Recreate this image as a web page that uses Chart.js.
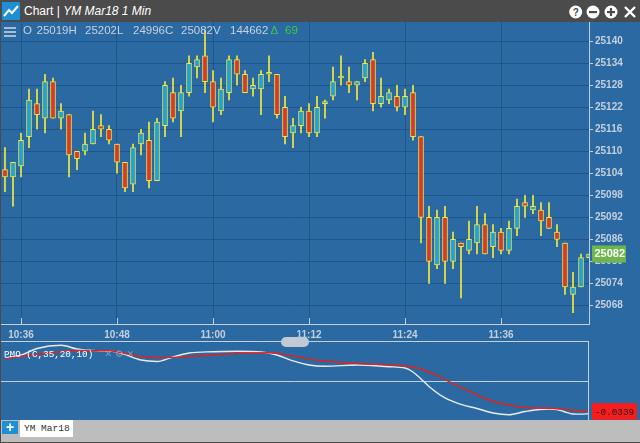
<!DOCTYPE html>
<html>
<head>
<meta charset="utf-8">
<script src="https://cdn.jsdelivr.net/npm/chart.js@4.4.1/dist/chart.umd.min.js"></script>
<style>
  html, body { margin: 0; padding: 0; }
  body {
    width: 640px; height: 443px; position: relative; overflow: hidden;
    background: #2a69a2; font-family: "Liberation Sans", Arial, sans-serif;
  }
  .abs { position: absolute; }
  #titlebar { left: 0; top: 0; width: 640px; height: 22px; background: #4b4b4b; }
  #title { left: 24px; top: 4px; color: #fff; font-size: 12px; line-height: 14px; white-space: pre; }
  #main { left: 0; top: 22px; z-index: 1; }
  #pmo { left: 0; top: 341px; z-index: 1; }
  .hdr { top: 24px; font-size: 11.5px; line-height: 13px; color: #c6d1df; z-index: 2; white-space: pre; }
  .hdr.up { color: #3ccb3c; }
  .burger { left: 4px; width: 12px; height: 2px; background: #a8bcd5; z-index: 2; }
  #panel { left: 0; top: 341px; width: 589px; height: 79px; box-sizing: border-box;
           border-top: 1px solid #c4cfdd; border-right: 1px solid #c4cfdd; z-index: 2; }
  #study { left: 4px; top: 348px; font-family: "Liberation Mono", monospace; font-size: 9.3px;
           color: #fff; z-index: 3; white-space: pre; }
  #study span { color: rgba(255,255,255,0.35); font-family: "DejaVu Sans", sans-serif; }
  #handle { left: 281px; top: 337px; width: 28px; height: 10px; border-radius: 5px; background: #c3c9d4; z-index: 3; }
  #footer { left: 0; top: 420px; width: 640px; height: 23px; background: #bdbdbd; z-index: 2; }
  #plus { left: 2px; top: 421px; width: 16px; height: 13px; background: #1f8fd8; color: #fff;
          font-weight: bold; font-size: 14px; line-height: 13px; text-align: center; z-index: 3; }
  #tab { left: 20px; top: 420px; width: 53px; height: 17px; background: #fff; color: #333;
         font-family: "Liberation Mono", monospace; font-size: 9.5px; line-height: 17px;
         padding-left: 4px; box-sizing: border-box; z-index: 3; }
  #frameL { left: 0; top: 22px; width: 1px; height: 421px; background: #4b4b4b; z-index: 4; }
  #frameB { left: 0; top: 442px; width: 640px; height: 1px; background: #4b4b4b; z-index: 4; }
</style>
</head>
<body>
<div id="titlebar" class="abs"></div>
<svg class="abs" style="left:2px;top:2px" width="18" height="18">
  <rect x="0" y="0" width="18" height="18" fill="#1e8ed6"/>
  <polyline points="2,14 7,8 10,11 16,4" fill="none" stroke="#fff" stroke-width="2"/>
</svg>
<div id="title" class="abs">Chart | <i>YM Mar18 1 Min</i></div>
<svg class="abs" style="left:568px;top:4px" width="72" height="16">
  <circle cx="7.7" cy="8" r="6.5" fill="#fff"/>
  <text x="7.7" y="12" text-anchor="middle" font-family="Liberation Sans" font-weight="bold" font-size="10" fill="#4b4b4b">?</text>
  <circle cx="25" cy="8" r="6.5" fill="#fff"/>
  <rect x="21" y="7" width="8" height="2.2" fill="#4b4b4b"/>
  <circle cx="43" cy="8" r="6.5" fill="#fff"/>
  <rect x="39" y="7" width="8" height="2.2" fill="#4b4b4b"/>
  <rect x="41.9" y="4" width="2.2" height="8" fill="#4b4b4b"/>
  <path d="M57 3 L67 13 M67 3 L57 13" stroke="#fff" stroke-width="2.4"/>
</svg>

<canvas id="main" class="abs" width="640" height="324"></canvas>
<canvas id="pmo" class="abs" width="640" height="79"></canvas>

<div class="abs burger" style="top:27px"></div>
<div class="abs burger" style="top:31px"></div>
<div class="abs burger" style="top:35px"></div>
<div class="abs hdr" style="left:23px">O</div>
<div class="abs hdr" style="left:36.5px">25019H</div>
<div class="abs hdr" style="left:85px">25202L</div>
<div class="abs hdr" style="left:133px">24996C</div>
<div class="abs hdr" style="left:181px">25082V</div>
<div class="abs hdr" style="left:230px">144662</div>
<div class="abs hdr up" style="left:270.5px">Δ</div>
<div class="abs hdr up" style="left:285px">69</div>

<div id="panel" class="abs"></div>
<div id="study" class="abs">PMO (C,35,20,10)  <span>✕ ⚙ ✕</span></div>
<div id="handle" class="abs"></div>
<div id="footer" class="abs"></div>
<div id="plus" class="abs">+</div>
<div id="tab" class="abs">YM Mar18</div>
<div id="frameL" class="abs"></div>
<div id="frameB" class="abs"></div>

<script>
// 1분봉 시각
const times = [
  '10:34', '10:35', '10:36', '10:37', '10:38', '10:39', '10:40', '10:41', '10:42', '10:43',
  '10:44', '10:45', '10:46', '10:47', '10:48', '10:49', '10:50', '10:51', '10:52', '10:53',
  '10:54', '10:55', '10:56', '10:57', '10:58', '10:59', '11:00', '11:01', '11:02', '11:03',
  '11:04', '11:05', '11:06', '11:07', '11:08', '11:09', '11:10', '11:11', '11:12', '11:13',
  '11:14', '11:15', '11:16', '11:17', '11:18', '11:19', '11:20', '11:21', '11:22', '11:23',
  '11:24', '11:25', '11:26', '11:27', '11:28', '11:29', '11:30', '11:31', '11:32', '11:33',
  '11:34', '11:35', '11:36', '11:37', '11:38', '11:39', '11:40', '11:41', '11:42', '11:43',
  '11:44', '11:45', '11:46', '11:47'
];

const opens = [
  25105, 25103, 25106, 25114, 25123, 25119, 25129, 25119, 25120, 25110,
  25110, 25112, 25117, 25116, 25112, 25107, 25101, 25112, 25113, 25102,
  25117, 25126, 25121, 25126, 25133, 25136, 25129, 25121, 25126, 25135,
  25131, 25127, 25127, 25131, 25131, 25122, 25115, 25117, 25121, 25115,
  25123, 25125, 25130, 25129, 25128, 25130, 25135, 25123, 25124, 25125,
  25122, 25126, 25114, 25092, 25079, 25092, 25080, 25085, 25083, 25085,
  25090, 25084, 25088, 25083, 25089, 25096, 25094, 25094, 25092, 25088,
  25085, 25071, 25073, 25081
];
const highs = [
  25111, 25107, 25115, 25127, 25127, 25131, 25130, 25123, 25120, 25110,
  25115, 25121, 25120, 25117, 25112, 25107, 25112, 25116, 25118, 25119,
  25129, 25130, 25128, 25136, 25136, 25143, 25132, 25130, 25136, 25136,
  25132, 25130, 25132, 25136, 25131, 25125, 25119, 25122, 25123, 25125,
  25124, 25133, 25136, 25133, 25129, 25135, 25137, 25130, 25127, 25128,
  25127, 25128, 25114, 25095, 25094, 25095, 25088, 25085, 25091, 25095,
  25093, 25090, 25089, 25091, 25097, 25098, 25098, 25096, 25096, 25090,
  25085, 25077, 25082, 25082
];
const lows = [
  25099, 25095, 25103, 25111, 25116, 25115, 25119, 25116, 25103, 25105,
  25109, 25112, 25114, 25112, 25104, 25099, 25099, 25109, 25100, 25102,
  25114, 25118, 25114, 25125, 25130, 25126, 25118, 25120, 25124, 25128,
  25126, 25125, 25120, 25129, 25119, 25112, 25111, 25115, 25114, 25114,
  25119, 25124, 25128, 25126, 25124, 25129, 25121, 25122, 25123, 25121,
  25120, 25113, 25085, 25074, 25078, 25074, 25078, 25070, 25082, 25082,
  25082, 25081, 25082, 25082, 25087, 25092, 25093, 25087, 25089, 25084,
  25071, 25066, 25073, 25081
];
const closes = [
  25103, 25107, 25113, 25124, 25120, 25129, 25119, 25121, 25109, 25108,
  25112, 25116, 25116, 25113, 25107, 25100, 25111, 25115, 25102, 25118,
  25128, 25119, 25126, 25134, 25135, 25129, 25122, 25127, 25135, 25131,
  25126, 25128, 25131, 25131, 25120, 25114, 25117, 25121, 25115, 25122,
  25123, 25129, 25130, 25128, 25129, 25134, 25123, 25125, 25126, 25122,
  25125, 25114, 25092, 25080, 25092, 25080, 25086, 25084, 25086, 25090,
  25082, 25088, 25083, 25089, 25095, 25095, 25095, 25091, 25089, 25086,
  25073, 25073, 25081, 25082
];

// PMO (흰색) 과 시그널 (빨간색)
const pmoTimes = [
  '10:34', '10:36', '10:38', '10:41', '10:43', '10:46', '10:48', '10:51', '10:53', '10:55',
  '10:57', '11:00', '11:03', '11:06', '11:08', '11:10', '11:12', '11:14', '11:18', '11:22',
  '11:24', '11:25', '11:26', '11:27', '11:29', '11:31', '11:33', '11:35', '11:37', '11:39',
  '11:42', '11:43', '11:44', '11:45', '11:46', '11:47'
];
const pmoValues = [
  0.0250, 0.0280, 0.0352, 0.0387, 0.0347, 0.0325, 0.0314, 0.0226, 0.0210, 0.0259,
  0.0303, 0.0317, 0.0322, 0.0314, 0.0281, 0.0216, 0.0172, 0.0158, 0.0172, 0.0153,
  0.0139, 0.0095, 0.0019, -0.0063, -0.0189, -0.0260, -0.0304, -0.0353, -0.0372, -0.0337,
  -0.0310, -0.0315, -0.0342, -0.0364, -0.0366, -0.0361
];
const signalTimes = [
  '10:34', '10:38', '10:41', '10:43', '10:47', '10:50', '10:53', '10:56', '10:59', '11:03',
  '11:07', '11:10', '11:13', '11:18', '11:24', '11:26', '11:28', '11:30', '11:32', '11:34',
  '11:36', '11:38', '11:40', '11:42', '11:44', '11:47'
];
const signalValues = [
  0.0241, 0.0289, 0.0317, 0.0330, 0.0328, 0.0278, 0.0250, 0.0259, 0.0276, 0.0298,
  0.0306, 0.0270, 0.0223, 0.0188, 0.0161, 0.0128, 0.0057, -0.0031, -0.0113, -0.0195,
  -0.0249, -0.0282, -0.0299, -0.0302, -0.0315, -0.0339
];

const xTickLabels = ['10:36', '10:48', '11:00', '11:12', '11:24', '11:36'];
const yTicks = [25068, 25074, 25080, 25086, 25092, 25098, 25104, 25110, 25116, 25122, 25128, 25134, 25140];

// 색상
const LIGHT = '#c4cfdd';
const GRID = '#1e568b';
const YELLOW = '#f2e93c';
const UP = '#1ba2dc';
const DOWN = '#d8372b';

// '10:36' -> 10시 기준 분
function toMin(t) {
  const p = t.split(':');
  return Number(p[0]) * 60 + Number(p[1]) - 600;
}

Chart.defaults.font.family = '"Liberation Sans", Arial, sans-serif';

// x축 눈금 표시 (축선 위쪽으로)
const xTickMarks = {
  id: 'xTickMarks',
  afterDraw(chart) {
    const ctx = chart.ctx, xs = chart.scales.x, b = chart.chartArea.bottom;
    ctx.save();
    ctx.strokeStyle = LIGHT;
    ctx.lineWidth = 1;
    xs.ticks.forEach(t => {
      const x = Math.round(xs.getPixelForValue(t.value)) + 0.5;
      ctx.beginPath();
      ctx.moveTo(x, b - 6);
      ctx.lineTo(x, b);
      ctx.stroke();
    });
    ctx.restore();
  }
};

// 현재가 라벨
const lastPrice = {
  id: 'lastPrice',
  afterDraw(chart) {
    const ctx = chart.ctx;
    const v = closes[closes.length - 1];
    const y = chart.scales.y.getPixelForValue(v);
    const x = chart.chartArea.right + 3;
    ctx.save();
    ctx.fillStyle = '#6cb64b';
    ctx.fillRect(x, y - 8.5, 34, 17);
    ctx.fillStyle = '#fff';
    ctx.font = 'bold 11px "Liberation Sans", Arial';
    ctx.textBaseline = 'middle';
    ctx.fillText(String(v), x + 2.5, y + 0.5);
    ctx.restore();
  }
};

new Chart(document.getElementById('main'), {
  type: 'bar',
  data: {
    datasets: [
      {
        label: 'body',
        data: times.map((t, i) => ({ x: toMin(t), y: [opens[i], closes[i]] })),
        backgroundColor: closes.map((c, i) => c >= opens[i] ? UP : DOWN),
        borderColor: YELLOW,
        borderWidth: 1,
        borderSkipped: false,
        barThickness: 5,
        minBarLength: 2,
        grouped: false,
        order: 0
      },
      {
        label: 'wick',
        data: times.map((t, i) => ({ x: toMin(t), y: [lows[i], highs[i]] })),
        backgroundColor: YELLOW,
        borderWidth: 0,
        barThickness: 1,
        grouped: false,
        order: 1
      }
    ]
  },
  options: {
    responsive: false,
    animation: false,
    layout: { padding: 0 },
    plugins: { legend: { display: false }, tooltip: { enabled: false } },
    scales: {
      x: {
        type: 'linear',
        min: 33.375,
        max: 107,
        offset: false,
        grid: { offset: false, color: GRID, drawTicks: false },
        border: { color: LIGHT },
        ticks: {
          padding: 5,
          color: LIGHT,
          font: { size: 10, weight: 'bold' },
          callback: (v, i) => xTickLabels[i]
        },
        afterBuildTicks: s => { s.ticks = xTickLabels.map(l => ({ value: toMin(l) })); },
        afterFit: s => { s.paddingLeft = 0; s.paddingRight = 0; }
      },
      y: {
        position: 'right',
        min: 25062.9,
        max: 25145.26,
        grid: { color: GRID, tickColor: LIGHT, tickLength: 4 },
        border: { color: LIGHT },
        ticks: {
          padding: 2,
          color: LIGHT,
          font: { size: 10, weight: 'bold' },
          callback: v => String(v)
        },
        afterBuildTicks: s => { s.ticks = yTicks.map(v => ({ value: v })); },
        afterFit: s => { s.width = 51; s.paddingTop = 0; s.paddingBottom = 0; }
      }
    }
  },
  plugins: [xTickMarks, lastPrice]
});

// 0 기준선
const zeroLine = {
  id: 'zeroLine',
  beforeDatasetsDraw(chart) {
    const ctx = chart.ctx, a = chart.chartArea;
    const y = Math.round(chart.scales.y.getPixelForValue(0)) + 0.5;
    ctx.save();
    ctx.strokeStyle = LIGHT;
    ctx.lineWidth = 1;
    ctx.beginPath();
    ctx.moveTo(a.left, y);
    ctx.lineTo(a.right, y);
    ctx.stroke();
    ctx.restore();
  }
};

// 시그널 값 라벨
const signalLabel = {
  id: 'signalLabel',
  afterDraw(chart) {
    const ctx = chart.ctx;
    const v = signalValues[signalValues.length - 1];
    const y = chart.scales.y.getPixelForValue(v);
    const x = chart.chartArea.right + 3;
    ctx.save();
    ctx.fillStyle = '#fa1c1c';
    ctx.fillRect(x, y - 8.5, 45, 16.5);
    ctx.fillStyle = '#1a1a1a';
    ctx.font = '9.3px "Liberation Mono", monospace';
    ctx.textBaseline = 'middle';
    ctx.fillText(v.toFixed(4), x + 3, y + 0.5);
    ctx.restore();
  }
};

new Chart(document.getElementById('pmo'), {
  type: 'line',
  data: {
    datasets: [
      {
        label: 'PMO',
        data: pmoTimes.map((t, i) => ({ x: toMin(t), y: pmoValues[i] })),
        borderColor: '#e8eef6',
        borderWidth: 1.4,
        pointRadius: 0,
        cubicInterpolationMode: 'monotone',
        order: 1
      },
      {
        label: 'Signal',
        data: signalTimes.map((t, i) => ({ x: toMin(t), y: signalValues[i] })),
        borderColor: '#e3221b',
        borderWidth: 1.4,
        pointRadius: 0,
        cubicInterpolationMode: 'monotone',
        order: 0
      }
    ]
  },
  options: {
    responsive: false,
    animation: false,
    layout: { padding: { right: 51 } },
    plugins: { legend: { display: false }, tooltip: { enabled: false } },
    scales: {
      x: { type: 'linear', min: 33.375, max: 107, display: false },
      y: { min: -0.043, max: 0.0434, display: false }
    }
  },
  plugins: [zeroLine, signalLabel]
});
</script>
</body>
</html>
